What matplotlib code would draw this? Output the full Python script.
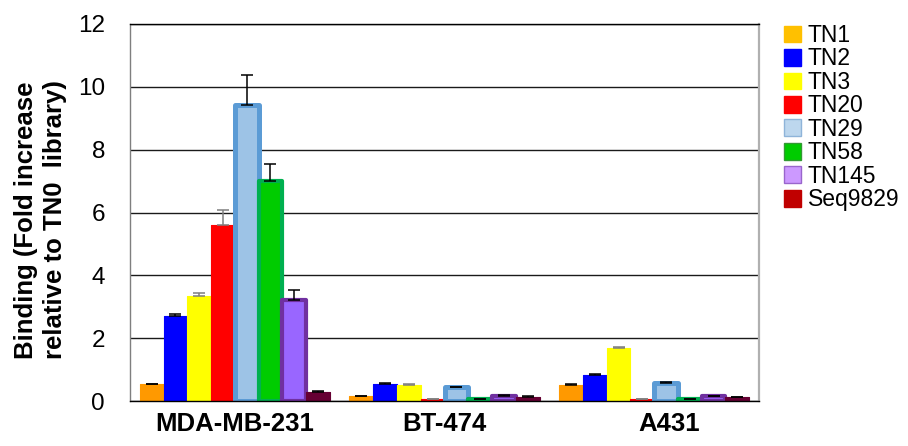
import numpy as np
import matplotlib
matplotlib.use('Agg')
from matplotlib import pyplot as plt
from matplotlib.patches import Patch
from matplotlib.transforms import ScaledTranslation

plt.rcParams['font.family'] = ['Liberation Sans', 'DejaVu Sans']

# Cell lines and aptamer variants
lineas = ['MDA-MB-231', 'BT-474', 'A431']
variantes = ['TN1', 'TN2', 'TN3', 'TN20', 'TN29', 'TN58', 'TN145', 'Seq9829']

# Binding values (fold increase vs TN0 library), one list per variant
tn1 = [0.53, 0.15, 0.52]
tn2 = [2.70, 0.55, 0.83]
tn3 = [3.34, 0.52, 1.69]
tn20 = [5.60, 0.06, 0.06]
tn29 = [9.42, 0.44, 0.58]
tn58 = [7.00, 0.06, 0.05]
tn145 = [3.20, 0.16, 0.15]
seq9829 = [0.30, 0.13, 0.12]

# Standard deviations (only the upper side is shown)
err_tn1 = [0.02, 0.02, 0.03]
err_tn2 = [0.08, 0.02, 0.02]
err_tn3 = [0.09, 0.02, 0.04]
err_tn20 = [0.47, 0.01, 0.01]
err_tn29 = [0.97, 0.02, 0.03]
err_tn58 = [0.55, 0.01, 0.01]
err_tn145 = [0.33, 0.02, 0.02]
err_seq9829 = [0.02, 0.02, 0.02]

valores = [tn1, tn2, tn3, tn20, tn29, tn58, tn145, seq9829]
errores = [err_tn1, err_tn2, err_tn3, err_tn20, err_tn29, err_tn58, err_tn145, err_seq9829]

# fill, edge, edge width (pt), error bar colour
relleno = ['#FF9900', '#0000FF', '#FFFF00', '#FF0000', '#9DC3E6', '#00CC00', '#9966FF', '#660033']
borde = ['#FF9900', '#0000FF', '#FFFF00', '#FF0000', '#5B9BD5', '#00B050', '#7030A0', '#660033']
grosor = [0.8, 0.8, 0.8, 0.8, 3.6, 3.0, 3.0, 0.8]
color_err = ['black', 'black', '#7F7F7F', '#7F7F7F', 'black', 'black', 'black', 'black']

# legend swatches use a slightly different palette
ley_relleno = ['#FFC000', '#0000FF', '#FFFF00', '#FF0000', '#BDD7EE', '#00CC00', '#CC99FF', '#C00000']
ley_borde = ['#FFC000', '#0000FF', '#FFFF00', '#FF0000', '#8FB4D9', '#339933', '#9966CC', '#C00000']

fig = plt.figure(figsize=(9.08, 4.46), dpi=100)
ax = fig.add_axes([130 / 908, 45 / 446, 629 / 908, 377 / 446])

x = np.arange(len(lineas))
w = 0.1133
n = len(variantes)
for i in range(n):
    pos = x + (i - (n - 1) / 2) * w
    ax.bar(pos, valores[i], w, color=relleno[i], edgecolor=borde[i],
           linewidth=grosor[i], joinstyle='round', zorder=2,
           yerr=[np.zeros(len(lineas)), errores[i]],
           error_kw=dict(ecolor=color_err[i], elinewidth=1.1, capsize=4.2,
                         capthick=1.1, zorder=3))

ax.set_xlim(-0.5, 2.5)
ax.set_ylim(0, 12)
ax.set_yticks(range(0, 13, 2))
ax.yaxis.grid(True, color='#1a1a1a', linewidth=1.0)
ax.set_axisbelow(True)
ax.tick_params(axis='y', length=0, pad=18, labelsize=17.5)
ax.tick_params(axis='x', length=0, pad=8)
ax.set_xticks(x)
ax.set_xticklabels(lineas, fontsize=18.5, fontweight='bold')
# A431 label sits a bit right of its group
etq = ax.get_xticklabels()[2]
etq.set_transform(etq.get_transform() + ScaledTranslation(15 / 100, 0, fig.dpi_scale_trans))

ax.spines['left'].set_color('#7F7F7F')
ax.spines['left'].set_linewidth(1.0)
ax.spines['right'].set_color('#B0B0B0')
ax.spines['right'].set_linewidth(1.6)
ax.spines['top'].set_color('black')
ax.spines['top'].set_linewidth(1.0)
ax.spines['bottom'].set_color('black')
ax.spines['bottom'].set_linewidth(1.0)

ax.set_ylabel('Binding (Fold increase\nrelative to TN0  library)', fontsize=18.5,
              fontweight='bold', linespacing=1.25)
ax.yaxis.set_label_coords(-0.1, 0.48)

manijas = [Patch(facecolor=ley_relleno[i], edgecolor=ley_borde[i], linewidth=1.0)
           for i in range(n)]
ax.legend(manijas, variantes, loc='upper left', bbox_to_anchor=(784 / 908, 1 - 24 / 446),
          bbox_transform=fig.transFigure, frameon=False, fontsize=16.5,
          handlelength=0.75, handleheight=0.75, handletextpad=0.28,
          labelspacing=0.02, borderpad=0, borderaxespad=0)

fig.savefig('out.png', dpi=100)
